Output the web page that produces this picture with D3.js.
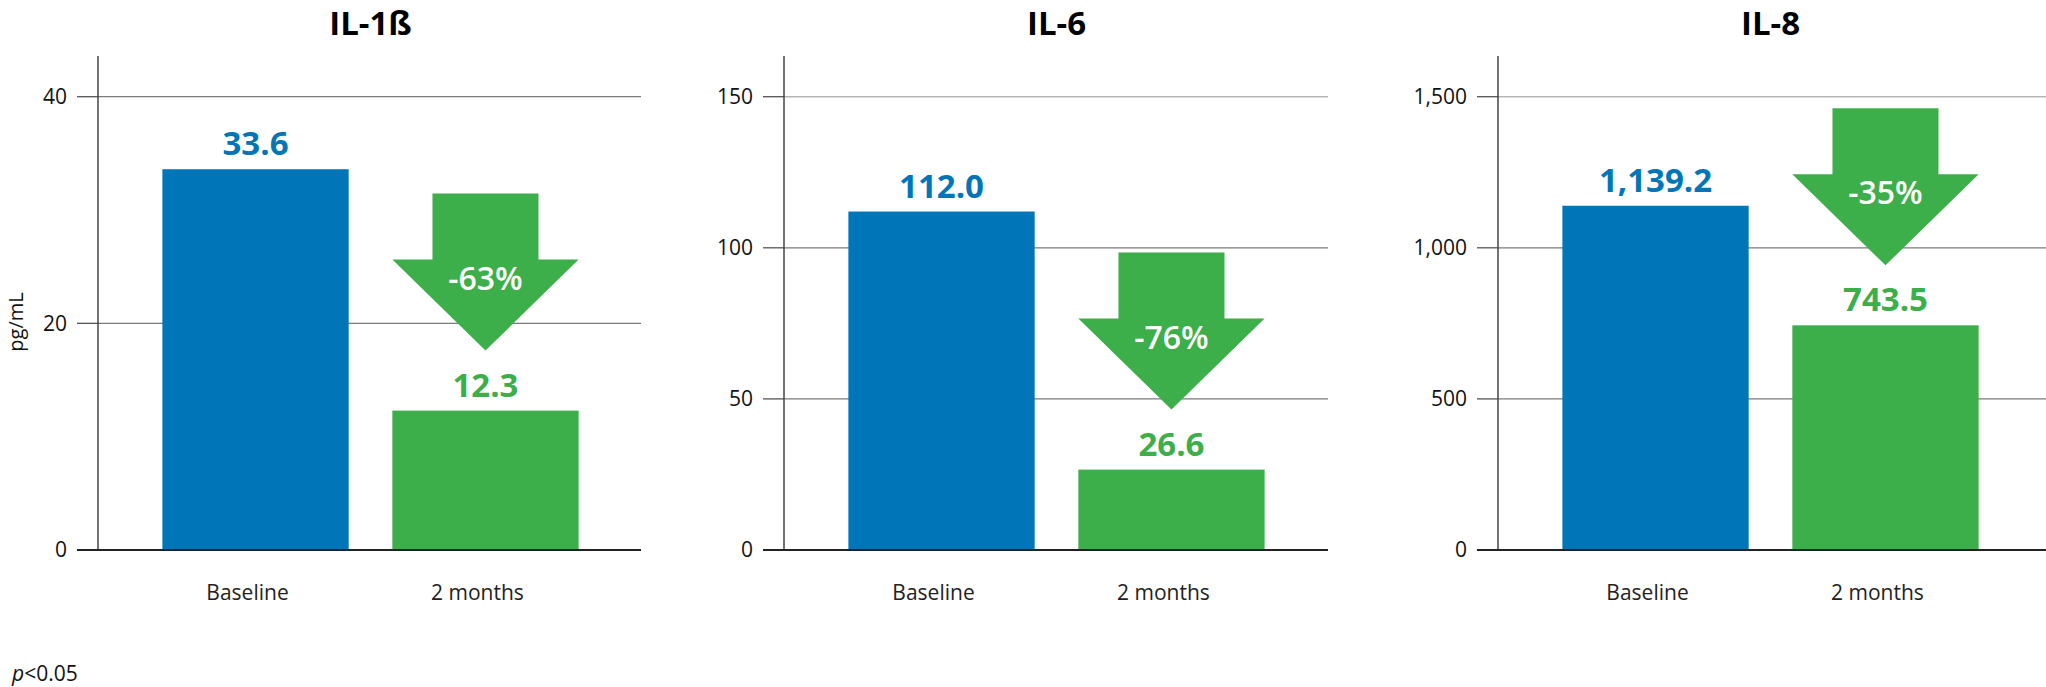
<!DOCTYPE html>
<html>
<head>
<meta charset="utf-8">
<script src="https://cdn.jsdelivr.net/npm/d3@7"></script>
<style>
  html, body { margin: 0; padding: 0; background: #fff; }
  svg { display: block; font-family: "Open Sans", "Noto Sans", sans-serif; }
</style>
</head>
<body>
<svg id="chart" width="2046" height="687"></svg>
<script>
// ---------- data ----------
const categories = ["Baseline", "2 months"];
const panelTitles = ["IL-1ß", "IL-6", "IL-8"];
const baselineValues = [33.6, 112.0, 1139.2];
const twoMonthValues = [12.3, 26.6, 743.5];
const percentChanges = [-63, -76, -35];
const yTickValues = [
  [0, 20, 40],
  [0, 50, 100, 150],
  [0, 500, 1000, 1500]
];
const yAxisTitle = "pg/mL";
const footnoteItalic = "p";
const footnoteRest = "<0.05";

// ---------- layout ----------
const axisX = [98, 784, 1498];
const bandSpan = 545;
const gridEnd = [641, 1328, 2046];
const yZero = 550, yTopTick = 96.7, axisTop = 56;
const tickLen = 21;
const blue = "#0075b8", green = "#3cae4a";
const barColors = [blue, green];

const svg = d3.select("#chart");

panelTitles.forEach((title, i) => {
  const g = svg.append("g");
  const x0 = axisX[i];
  const ticks = yTickValues[i];
  const values = [baselineValues[i], twoMonthValues[i]];

  const x = d3.scaleBand()
    .domain(categories)
    .range([x0, x0 + bandSpan])
    .paddingInner(0.19)
    .paddingOuter(0.28);

  const y = d3.scaleLinear()
    .domain([0, d3.max(ticks)])
    .range([yZero, yTopTick]);

  // tick marks + gridlines (non-zero ticks)
  ticks.filter(t => t !== 0).forEach(t => {
    const isTop = t === d3.max(ticks);
    g.append("line")
      .attr("x1", x0 - tickLen).attr("x2", x0)
      .attr("y1", y(t)).attr("y2", y(t))
      .attr("stroke", "#555").attr("stroke-width", 1.3);
    g.append("line")
      .attr("x1", x0).attr("x2", gridEnd[i])
      .attr("y1", y(t)).attr("y2", y(t))
      .attr("stroke", (isTop && i > 0) ? "#b5b5b5" : "#7a7a7a")
      .attr("stroke-width", (isTop && i > 0) ? 1.6 : 1.2);
  });

  // y axis labels via d3 axis
  const yAxis = d3.axisLeft(y)
    .tickValues(ticks)
    .tickSize(0)
    .tickPadding(tickLen + 10)
    .tickFormat(d3.format(","));
  const ag = g.append("g")
    .attr("transform", `translate(${x0},0)`)
    .call(yAxis);
  ag.select(".domain").remove();
  ag.selectAll("text")
    .attr("font-size", 21)
    .attr("fill", "#111")
    .attr("font-family", "'Open Sans', sans-serif");

  // bars
  g.selectAll("rect.bar")
    .data(values)
    .join("rect")
    .attr("class", "bar")
    .attr("x", (d, k) => x(categories[k]))
    .attr("width", x.bandwidth())
    .attr("y", d => y(d))
    .attr("height", d => y(0) - y(d))
    .attr("fill", (d, k) => barColors[k]);

  // value labels
  g.selectAll("text.val")
    .data(values)
    .join("text")
    .attr("class", "val")
    .attr("x", (d, k) => x(categories[k]) + x.bandwidth() / 2)
    .attr("y", d => y(d) - 14)
    .attr("text-anchor", "middle")
    .attr("font-size", 33)
    .attr("font-weight", 700)
    .attr("fill", (d, k) => barColors[k])
    .text(d => d3.format(",.1f")(d));

  // vertical axis line
  g.append("line")
    .attr("x1", x0).attr("x2", x0)
    .attr("y1", axisTop).attr("y2", yZero)
    .attr("stroke", "#444").attr("stroke-width", 1.5);

  // zero line
  g.append("line")
    .attr("x1", x0 - tickLen).attr("x2", gridEnd[i])
    .attr("y1", y(0)).attr("y2", y(0))
    .attr("stroke", "#222").attr("stroke-width", 2);

  // category labels
  g.selectAll("text.cat")
    .data(categories)
    .join("text")
    .attr("class", "cat")
    .attr("x", d => x(d) + x.bandwidth() / 2 - 8)
    .attr("y", 600)
    .attr("text-anchor", "middle")
    .attr("font-size", 21)
    .attr("fill", "#222")
    .text(d => d);

  // title
  g.append("text")
    .attr("x", (x(categories[0]) + x(categories[1]) + x.bandwidth()) / 2)
    .attr("y", 35)
    .attr("text-anchor", "middle")
    .attr("font-size", 33)
    .attr("font-weight", 700)
    .attr("fill", "#000")
    .text(title);

  // down arrow with percent change
  const cx = x(categories[1]) + x.bandwidth() / 2;
  const tipY = y(values[1]) - 60;
  const headHalf = x.bandwidth() / 2;
  const shaftHalf = 53, headH = 91, shaftH = 66;
  const pts = [
    [cx - shaftHalf, tipY - headH - shaftH],
    [cx + shaftHalf, tipY - headH - shaftH],
    [cx + shaftHalf, tipY - headH],
    [cx + headHalf, tipY - headH],
    [cx, tipY],
    [cx - headHalf, tipY - headH],
    [cx - shaftHalf, tipY - headH]
  ];
  g.append("path")
    .attr("d", d3.line()(pts) + "Z")
    .attr("fill", green);
  g.append("text")
    .attr("x", cx)
    .attr("y", tipY - headH + 30)
    .attr("text-anchor", "middle")
    .attr("font-size", 32)
    .attr("font-weight", 600)
    .attr("fill", "#fff")
    .text(percentChanges[i] + "%");
});

// y axis title
svg.append("text")
  .attr("transform", "translate(23,322) rotate(-90)")
  .attr("text-anchor", "middle")
  .attr("font-size", 20)
  .attr("fill", "#111")
  .text(yAxisTitle);

// footnote
const fn = svg.append("text")
  .attr("x", 12)
  .attr("y", 681)
  .attr("font-size", 21)
  .attr("fill", "#111");
fn.append("tspan").attr("font-style", "italic").text(footnoteItalic);
fn.append("tspan").text(footnoteRest);
</script>
</body>
</html>
